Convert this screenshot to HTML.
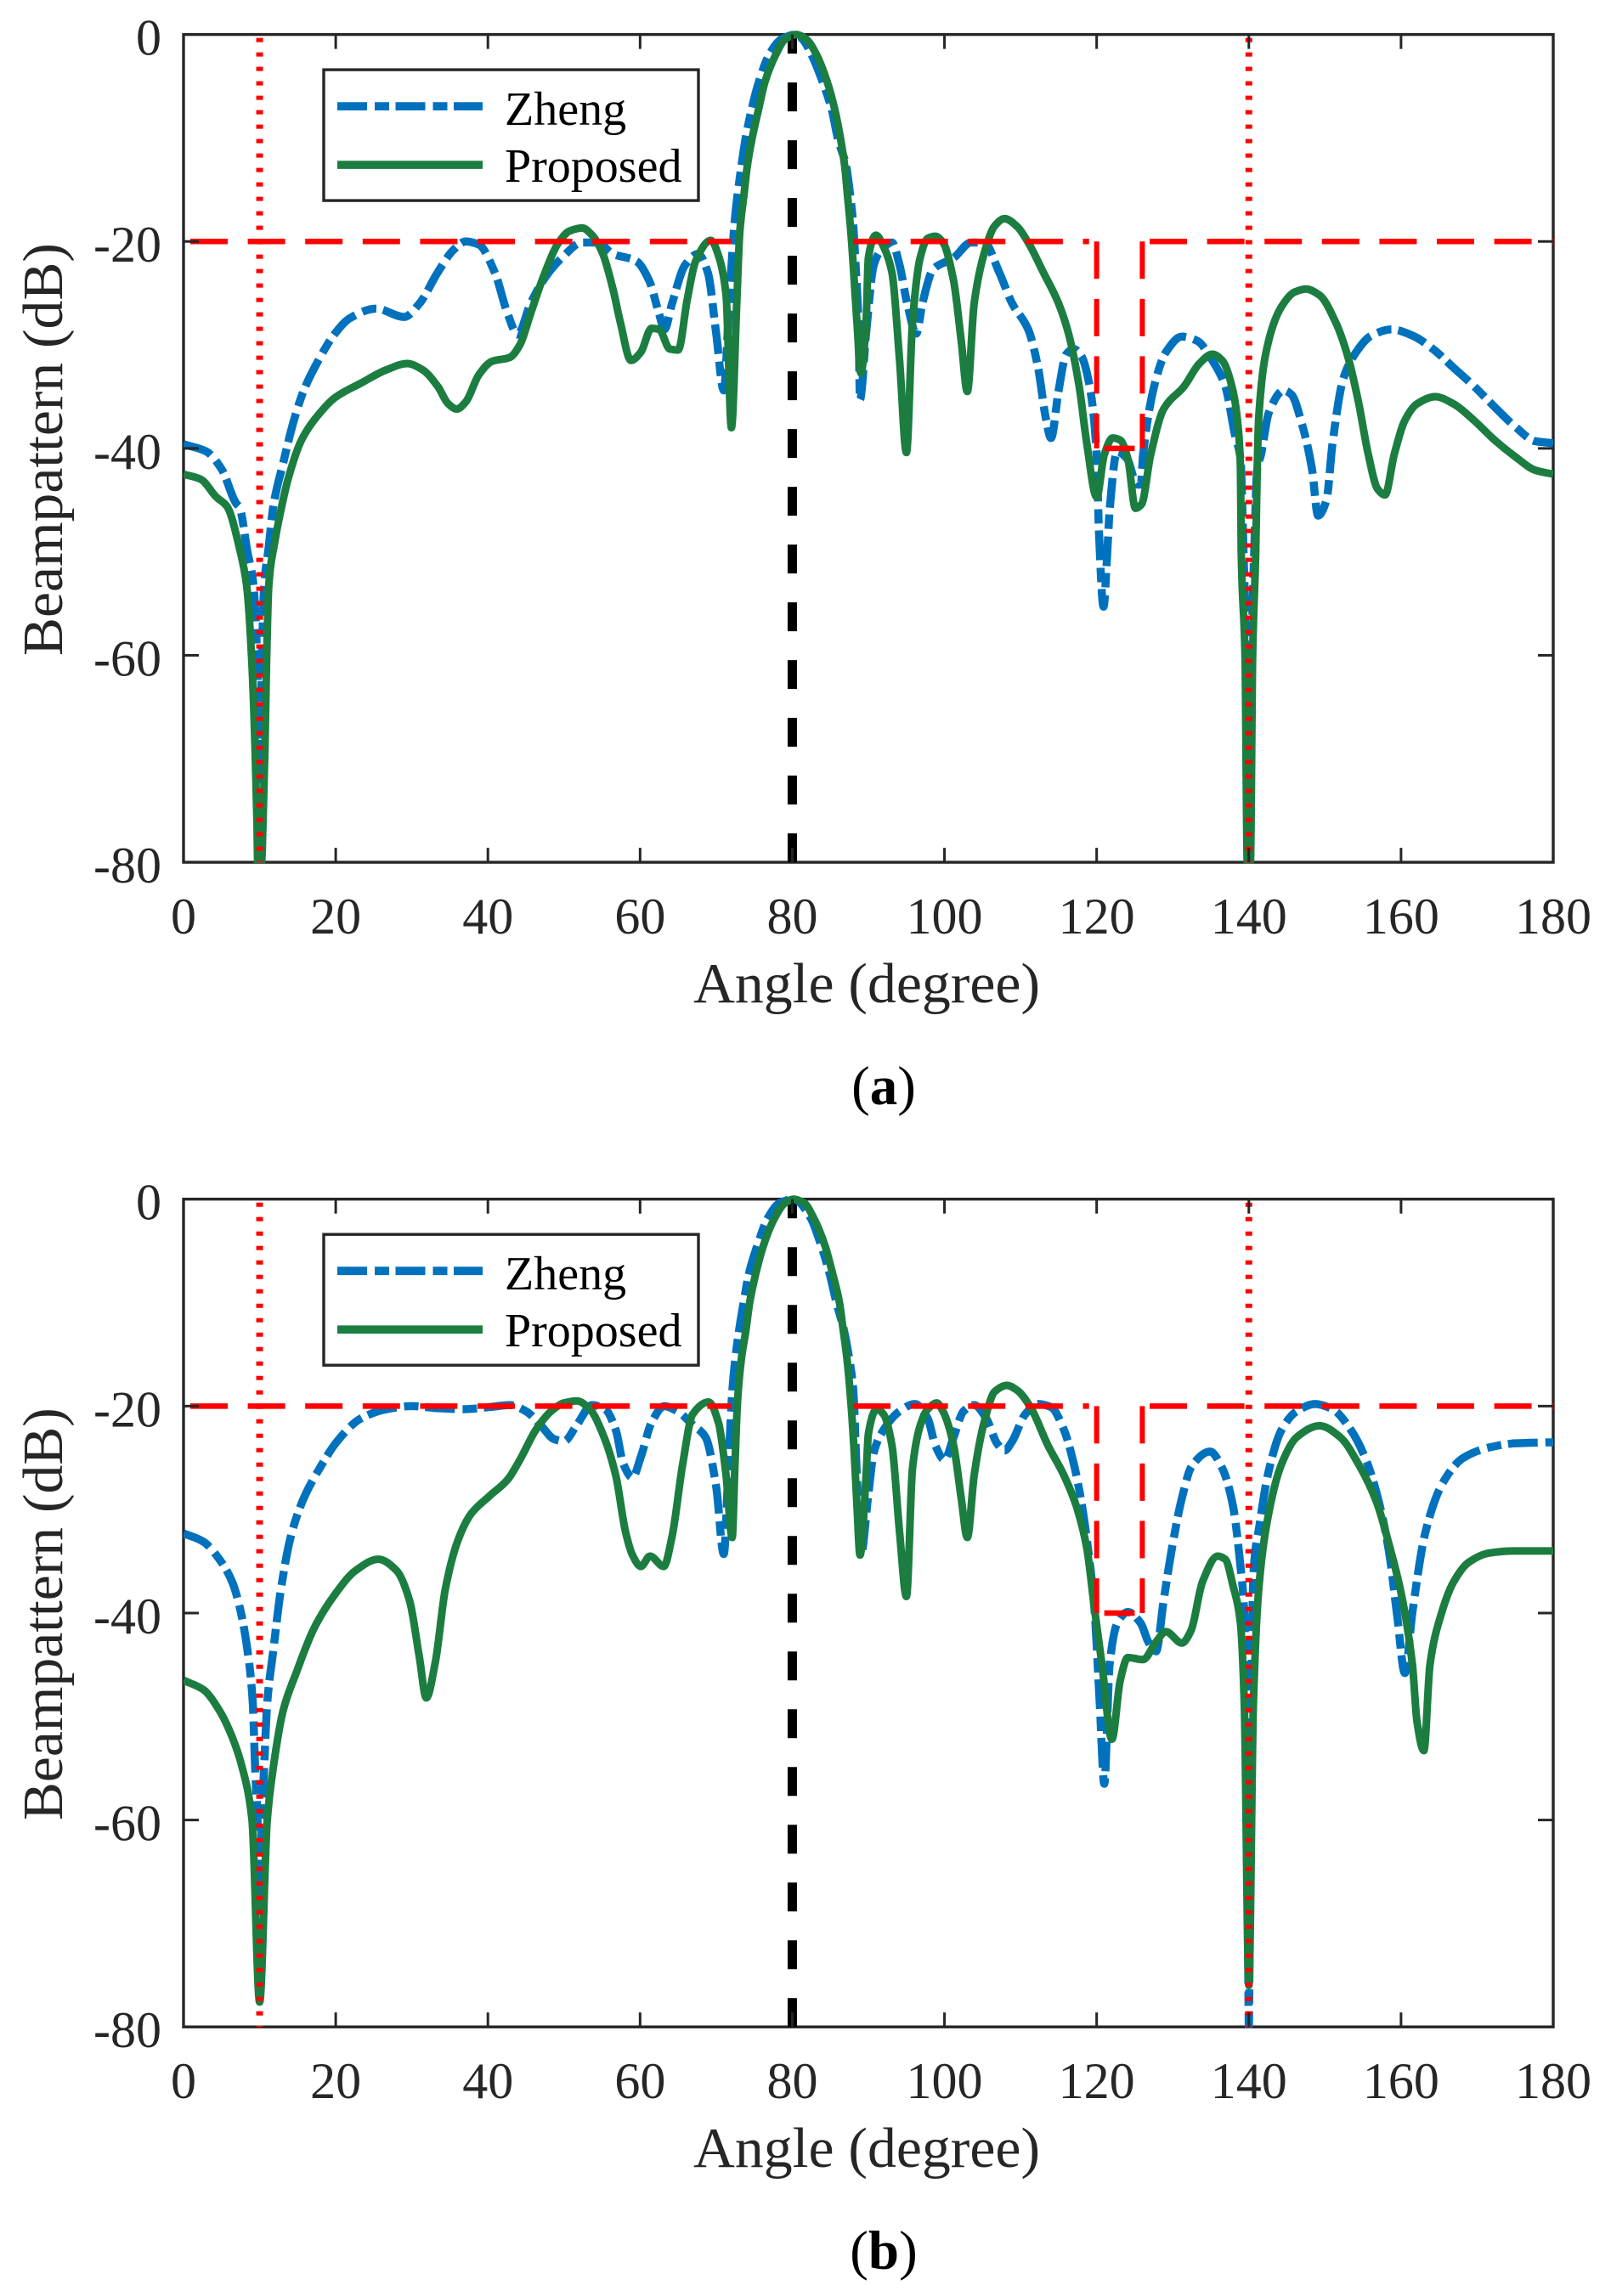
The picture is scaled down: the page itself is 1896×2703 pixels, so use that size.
<!DOCTYPE html>
<html lang="en">
<head>
<meta charset="utf-8">
<title>Beampattern comparison</title>
<style>
html,body{margin:0;padding:0;background:#fff;}
svg{display:block;}
text{font-family:"Liberation Serif","DejaVu Serif",serif;}
</style>
</head>
<body>
<svg id="figure" xmlns="http://www.w3.org/2000/svg" width="1896" height="2703" viewBox="0 0 1896 2703"></svg>
<script>
const xTickValues = [0,20,40,60,80,100,120,140,160,180];
const yTickValues = [0,-20,-40,-60,-80];
const nullAngles = [10,140];
const mainBeamAngle = [80];
const maskSegmentAngles = [[0,72],[88,119],[120,120],[121,125],[126,126],[126,180]];
const maskSegmentDb = [[-20,-20],[-20,-20],[-20,-40],[-40,-40],[-20,-40],[-20,-20]];

const panelAZhengAngle = [0,3,5,7,7.3,8.4,9.2,9.75,10,10.25,10.6,11.2,11.8,13.1,14.5,15.8,17.5,19.9,21.9,25.3,29,31,33.4,35.5,37.1,38.8,40.9,42.6,43.9,45.6,47.6,49.7,52.4,54.4,56.4,59.5,61.2,62.5,63.2,64.2,65.9,67.6,68.9,70,71,71.7,72.4,72.8,73.3,73.85,74.7,75.6,77,78.5,80.5,81.4,82.5,84,85.2,86,87.1,87.6,88,88.3,88.7,88.9,89.7,90.7,91.7,93.1,94.1,95.1,96.3,97.1,98.5,101.2,103.5,105.2,107.2,108.9,111,112.3,113.3,114,115,116,117,118,119,120,120.3,120.9,121.4,121.7,122.7,124,125.3,125.8,126.1,127.8,129.1,131.2,133.2,135.2,136.9,138.2,138.9,139.3,139.7,140,140.3,140.7,141.1,141.6,142.6,144.6,145.6,147,148.3,149.1,150.2,151,152.4,154.1,156.1,158.8,161.5,164.2,166.9,169.6,172.3,175,177.6,180];
const panelAZhengDb = [-39.6,-40.3,-42,-45.4,-45.6,-50,-53.3,-62,-72,-62,-53.3,-49.5,-45.6,-41.4,-37.3,-34.4,-31.8,-28.9,-27.4,-26.5,-27.3,-26,-23,-20.8,-20,-20.3,-23,-27,-29,-26,-23.4,-21.6,-20.1,-20.1,-21.2,-21.9,-23.8,-27,-28.5,-26,-22.3,-21.2,-23,-28.9,-34.4,-26,-18.3,-15.5,-12.8,-10.1,-7.1,-4.6,-1.9,-0.5,0,-0.5,-1.9,-4.6,-7.3,-10.1,-12.8,-15.5,-18.3,-22,-28,-35.3,-28.9,-22.3,-20.8,-20.1,-22.3,-26,-28.9,-26,-22.7,-21.6,-20.1,-20.1,-23,-26,-28.5,-32.2,-37,-39,-34.4,-30.9,-30.4,-31.1,-33.7,-40.6,-48,-55.3,-50,-46,-40.3,-41,-43.5,-43.5,-40.6,-33.3,-30.7,-29.2,-29.6,-31.5,-34,-38.8,-41,-50,-62,-80,-62,-50,-42,-40.6,-36.6,-34.4,-34.8,-37.7,-42,-46.5,-45,-39.5,-33.3,-30.7,-29.1,-28.5,-29.1,-30.4,-32.2,-34,-36,-37.9,-39.3,-39.5];

const panelAProposedAngle = [0,2.3,4.3,5.7,7.4,8.3,9,9.4,9.65,9.75,10.25,10.45,10.7,10.9,11.2,12,12.9,13.8,15.5,17.9,19.9,23.3,26.7,29.4,31.4,33.4,34.8,35.9,37.1,38.8,40.5,42.9,44.2,45.6,47.3,49.3,50.7,52.4,53.7,55.1,56.4,57.4,58.8,60.1,61.5,62.5,63.9,65,66.2,67.3,69.3,70.4,71.3,72,72.7,73.1,73.65,74.07,74.7,75.55,76.4,77.86,79,80.5,81.9,83.15,84.6,85.6,86.35,86.9,87.25,87.7,88.5,89,89.7,90,91,92,93.1,94.1,95,95.8,96.8,97.8,98.8,99.8,101.2,102.2,103,103.9,105.2,106.6,107.9,109.6,111,113,115,116.3,117.7,118.7,120,121,122.1,123.1,124.1,125.1,125.9,127.1,128.8,131.5,133.5,135.2,136.5,137.9,138.6,138.9,139,139.5,139.8,140.2,140.5,140.9,141.1,141.3,142.6,144.3,146,147.5,149.3,151.4,153,154.4,155.7,156.9,157.9,159.1,160.5,162.1,164.5,166.9,169.6,172.3,175,177.6,180];
const panelAProposedDb = [-42.5,-43,-44.7,-45.6,-49.8,-53.3,-61,-69,-76,-80,-80,-76,-69,-61,-53.3,-49,-45.6,-42.8,-39.2,-36.6,-35.1,-33.7,-32.4,-31.8,-32.4,-34,-35.7,-36.2,-35.5,-32.9,-31.6,-31.2,-30,-27,-23.4,-20.1,-19,-18.7,-19.4,-21.2,-24.5,-27.8,-31.5,-30.7,-28.4,-28.5,-30.4,-30.5,-25.6,-21.9,-19.9,-21.6,-25.2,-38,-26,-19.1,-15.5,-12.8,-10.1,-7.3,-4.6,-1.9,-0.5,0,-0.5,-1.9,-4.6,-7.3,-10.1,-12.8,-15.5,-19.1,-27.8,-32.7,-27.8,-21.6,-19.4,-20.5,-23,-31.5,-40.4,-27.8,-21.6,-19.7,-19.5,-20.1,-23.8,-29.6,-34.5,-26,-21.2,-18.5,-17.8,-18.6,-20.1,-23,-26,-28.9,-34,-39.5,-44.7,-40.6,-39,-39.2,-41,-45.8,-45.4,-40.6,-36.2,-34,-31.8,-30.9,-31.5,-34.4,-38,-42,-50,-60,-80,-80,-60,-50,-42,-37,-29.6,-26.3,-24.9,-24.6,-25.2,-27.8,-31.1,-35.5,-40.6,-43.9,-44.5,-40.6,-37.3,-35.7,-35,-35.7,-37.3,-39.2,-40.8,-42.1,-42.5];

const panelBZhengAngle = [0,2.6,4.7,6.4,7.4,8.4,9.1,9.4,9.8,10,10.2,10.6,11,11.8,12.8,14.1,15.8,17.9,20.2,23.3,26.7,30,33.4,36.8,40.2,42.9,45,47,48.7,50,51.7,53.7,55.4,56.8,57.8,59,60.1,61.5,63.2,64.9,66.9,68.6,70,71,71.6,72.1,72.5,73,73.6,74.3,75.4,76.8,78.3,80.2,82.4,83.8,84.9,85.8,86.8,87.5,88,88.5,89,90,90.7,92,94.1,96.1,97.8,98.8,100,101.2,102.5,103.9,105.5,106.9,107.9,108.9,110.6,112.3,114,115.7,117,118,118.9,119.7,120.4,121,121.7,122.7,124.1,125.8,126.8,127.8,128.8,130,131.2,132.5,134.9,136.5,137.9,138.9,139.4,139.8,140,140.2,140.6,141.4,142.6,144.3,146.3,148.7,151,153.4,155.4,157.1,158.4,159.5,160.5,161.5,163.2,165.5,168.2,171.6,175,180];
const panelBZhengDb = [-32.3,-33.1,-34.8,-37,-39.5,-43.6,-48.7,-54.8,-62,-75,-62,-54.8,-48.7,-43.6,-37.7,-32.6,-28.9,-26,-23.4,-21.2,-20.3,-20,-20.2,-20.3,-20.1,-19.9,-20.5,-21.9,-23.2,-23.4,-21.8,-19.9,-20.3,-22.3,-25.6,-26.9,-24.9,-21.6,-20,-20.5,-21.8,-23,-27.8,-34.3,-26,-18.7,-15.5,-12.7,-10,-7.2,-4.5,-1.8,-0.4,0,-1.8,-4.5,-7.2,-10,-12.7,-15.5,-18.3,-27,-34.4,-28.5,-24.5,-22.3,-20.5,-19.8,-21.2,-23.8,-25.2,-23,-20.5,-19.9,-21.2,-23.6,-24.3,-23.4,-20.8,-19.8,-20.1,-22.3,-25.6,-29.3,-34,-39.5,-48.7,-56.5,-45,-41,-39.9,-41,-42.8,-43.7,-38.8,-33.3,-28.9,-25.8,-24.4,-26,-29.6,-35.5,-40,-60,-80,-60,-36.2,-31.5,-26.3,-22.3,-20.5,-19.8,-20.3,-22.3,-25.2,-29.3,-34,-40.3,-45.8,-39.9,-32.2,-27.4,-25,-24,-23.6,-23.5];

const panelBProposedAngle = [0,2.6,4.7,6.4,7.7,9,10,11,11.8,13.1,14.8,17.2,19.9,22.6,25.6,28,29.7,31,31.9,33.1,34.4,36.1,37.8,40.2,42.6,44.2,46.3,48.3,50,51.7,53.4,55.1,56.8,58.1,59,60.1,61.3,63.1,64.2,65.6,66.9,69,70.3,71.3,72.1,72.45,72.8,73.3,73.9,74.4,75.2,76.2,77.7,79,80.2,81.6,82.8,84.3,85.3,86.2,86.7,87.2,87.7,88.1,88.5,88.9,89.7,90,91.1,92,93.1,94.1,95,95.8,96.8,97.8,99,99.8,101.2,102.2,103,103.9,105.2,106.6,108.2,109.6,111.3,113.6,115.7,117.3,118.7,119.7,120.7,122,123.1,124.1,126.1,127.8,129.1,131.2,132.4,133.9,135.9,136.9,137.9,138.9,139.4,140,140.6,141.3,142.6,144.3,146.3,149.3,152,154.4,156.8,158.4,160.1,161.5,162.1,163,163.8,165.2,166.9,168.9,171.6,175,180];
const panelBProposedDb = [-46.5,-47.4,-49.4,-52,-54.9,-60,-77.6,-60,-54.9,-49.4,-45.8,-41.4,-38.2,-35.9,-34.8,-35.9,-38.8,-44.3,-48.2,-44.7,-37.7,-32.9,-30.4,-28.7,-27.1,-25.2,-22.3,-20.5,-19.7,-19.5,-20.3,-22.7,-26.7,-32.2,-34.4,-35.5,-34.5,-35.5,-32.6,-25.6,-20.8,-19.6,-21.6,-26.7,-32.7,-26,-19.6,-15.5,-12.7,-10,-7.2,-4.5,-1.8,-0.4,0,-0.4,-1.8,-4.5,-7.2,-10,-12.7,-15.5,-19.6,-24,-29.6,-34.4,-26.7,-22.7,-20.3,-20.8,-23.8,-32.2,-38.4,-26,-21.9,-20.3,-19.7,-20.5,-23.8,-28.9,-32.7,-26.7,-21.6,-18.6,-18,-18.5,-20.1,-23.8,-26.7,-29.6,-33.7,-39.5,-45,-52.2,-46.5,-44.3,-44.5,-42.8,-41.8,-42.9,-41.7,-37,-34.5,-34.8,-37.3,-41,-48.7,-76,-48.7,-37.7,-30.4,-25.6,-23,-21.9,-23,-25.6,-29.3,-33.3,-38.4,-45,-50.5,-53.3,-45,-40.3,-37,-35.1,-34.2,-34,-34];

const SVG_NS = 'http://www.w3.org/2000/svg';
const figure = document.getElementById('figure');
const INK = '#262626';
const PLOT_LEFT = 216, PLOT_WIDTH = 1612, PLOT_HEIGHT = 974.5;
const maskDashOffsets = [59.6,0,0,0,0,59];

function mk(parent, tag, attrs, text) {
  const el = document.createElementNS(SVG_NS, tag);
  for (const k in attrs) el.setAttribute(k, attrs[k]);
  if (text !== undefined) el.textContent = text;
  parent.appendChild(el);
  return el;
}

/* Monotone cubic curve through the mapped points: no overshoot at lobes or nulls. */
function curveThrough(px, py) {
  const n = px.length;
  const slope = [];
  for (let i = 0; i < n - 1; i++) slope.push((py[i + 1] - py[i]) / (px[i + 1] - px[i]));
  const tan = [slope[0]];
  for (let i = 1; i < n - 1; i++) {
    if (slope[i - 1] * slope[i] <= 0) { tan.push(0); continue; }
    const h0 = px[i] - px[i - 1], h1 = px[i + 1] - px[i];
    const w1 = 2 * h1 + h0, w2 = h1 + 2 * h0;
    tan.push((w1 + w2) / (w1 / slope[i - 1] + w2 / slope[i]));
  }
  tan.push(slope[n - 2]);
  let d = 'M' + px[0].toFixed(2) + ' ' + py[0].toFixed(2);
  for (let i = 0; i < n - 1; i++) {
    const h = (px[i + 1] - px[i]) / 3;
    d += 'C' + (px[i] + h).toFixed(2) + ' ' + (py[i] + tan[i] * h).toFixed(2) + ' ' +
         (px[i + 1] - h).toFixed(2) + ' ' + (py[i + 1] - tan[i + 1] * h).toFixed(2) + ' ' +
         px[i + 1].toFixed(2) + ' ' + py[i + 1].toFixed(2);
  }
  return d;
}

function drawPanel(id, top, zhengAngle, zhengDb, proposedAngle, proposedDb, caption) {
  const xAxis = a => PLOT_LEFT + a / 180 * PLOT_WIDTH;
  const yAxis = d => top - d / 80 * PLOT_HEIGHT;
  const bottom = top + PLOT_HEIGHT;
  const right = PLOT_LEFT + PLOT_WIDTH;

  const g = mk(figure, 'g', {});
  
  

  const defs = mk(g, 'defs', {});
  const clip = mk(defs, 'clipPath', {id: 'clip-' + id});
  mk(clip, 'rect', {x: PLOT_LEFT, y: top - 8, width: PLOT_WIDTH, height: PLOT_HEIGHT + 9});

  const plot = mk(g, 'g', {'clip-path': 'url(#clip-' + id + ')'});
  
  

  const frame = mk(g, 'rect', {x: PLOT_LEFT, y: top, width: PLOT_WIDTH, height: PLOT_HEIGHT, fill: 'none', stroke: INK, 'stroke-width': 3.4});
  
  
  g.insertBefore(frame, plot);

  mainBeamAngle.forEach(a => {
    const beam = mk(plot, 'line', {x1: xAxis(a), x2: xAxis(a), y1: yAxis(-80), y2: yAxis(0), stroke: '#000', 'stroke-width': 11, 'stroke-dasharray': '34 34'});
    
    
  });

  const zheng = mk(plot, 'path', {d: curveThrough(zhengAngle.map(xAxis), zhengDb.map(yAxis)), fill: 'none', stroke: '#0072BD', 'stroke-width': 9.5, 'stroke-dasharray': '35 9 17 8', 'stroke-linejoin': 'round'});
  
  

  const proposed = mk(plot, 'path', {d: curveThrough(proposedAngle.map(xAxis), proposedDb.map(yAxis)), fill: 'none', stroke: '#1C7D40', 'stroke-width': 9, 'stroke-linejoin': 'round'});
  
  

  maskSegmentAngles.forEach((seg, i) => {
    const d = maskSegmentDb[i];
    const mask = mk(plot, 'line', {x1: xAxis(seg[0]), x2: xAxis(seg[1]), y1: yAxis(d[0]), y2: yAxis(d[1]), stroke: '#ff0000', 'stroke-width': seg[0] === seg[1] ? 6 : 6.5, 'stroke-dasharray': '44 23.6', 'stroke-dashoffset': maskDashOffsets[i]});
    
    
  });

  nullAngles.forEach(a => {
    const nullLine = mk(plot, 'line', {x1: xAxis(a), x2: xAxis(a), y1: yAxis(0), y2: yAxis(-80), stroke: '#ff0000', 'stroke-width': 8, 'stroke-dasharray': '5 12', 'stroke-dashoffset': 13});
    
    
  });

  xTickValues.forEach(v => {
    const x = xAxis(v);
    if (v !== 0 && v !== 180) {
      const t1 = mk(g, 'line', {x1: x, x2: x, y1: bottom, y2: bottom - 17, stroke: INK, 'stroke-width': 3});
      
      
      const t2 = mk(g, 'line', {x1: x, x2: x, y1: top, y2: top + 17, stroke: INK, 'stroke-width': 3});
      
      
    }
    const label = mk(g, 'text', {x: x, y: bottom + 84, 'text-anchor': 'middle', 'font-size': 60, fill: INK}, String(v));
    
    
  });

  yTickValues.forEach(v => {
    const y = yAxis(v);
    if (v !== 0 && v !== -80) {
      const t1 = mk(g, 'line', {x1: PLOT_LEFT, x2: PLOT_LEFT + 18, y1: y, y2: y, stroke: INK, 'stroke-width': 3});
      
      
      const t2 = mk(g, 'line', {x1: right, x2: right - 18, y1: y, y2: y, stroke: INK, 'stroke-width': 3});
      
      
    }
    const label = mk(g, 'text', {x: 190, y: y + 24, 'text-anchor': 'end', 'font-size': 60, fill: INK}, String(v));
    
    
  });

  const xTitle = mk(g, 'text', {x: 1020, y: top + 1139.5, 'text-anchor': 'middle', 'font-size': 67, fill: INK, textLength: 408, lengthAdjust: 'spacingAndGlyphs'}, 'Angle (degree)');
  
  

  const yTitle = mk(g, 'text', {transform: 'translate(73,' + (top + 488.5) + ') rotate(-90)', 'text-anchor': 'middle', 'font-size': 67, fill: INK, textLength: 486, lengthAdjust: 'spacingAndGlyphs'}, 'Beampattern (dB)');
  
  

  const legend = mk(g, 'g', {});
  
  
  const lt = top + 41.5;
  const box = mk(legend, 'rect', {x: 381, y: lt, width: 441, height: 154, fill: '#fff', stroke: INK, 'stroke-width': 3.4});
  
  
  const keyZ = mk(legend, 'line', {x1: 397, x2: 568, y1: lt + 43, y2: lt + 43, stroke: '#0072BD', 'stroke-width': 9.8, 'stroke-dasharray': '35 9 17 7.5'});
  
  
  const textZ = mk(legend, 'text', {x: 594, y: lt + 65, 'font-size': 56, fill: '#000'}, 'Zheng');
  
  
  const keyP = mk(legend, 'line', {x1: 397, x2: 568, y1: lt + 112, y2: lt + 112, stroke: '#1C7D40', 'stroke-width': 9.6});
  
  
  const textP = mk(legend, 'text', {x: 594, y: lt + 132, 'font-size': 56, fill: '#000'}, 'Proposed');
  
  

  const cap = mk(g, 'text', {x: 1040, y: top + 1259.5, 'text-anchor': 'middle', 'font-size': 65, fill: '#000'});
  
  
  mk(cap, 'tspan', {}, '(');
  mk(cap, 'tspan', {'font-weight': 'bold'}, caption);
  mk(cap, 'tspan', {}, ')');
}

drawPanel('a', 40.6, panelAZhengAngle, panelAZhengDb, panelAProposedAngle, panelAProposedDb, 'a');
drawPanel('b', 1411.7, panelBZhengAngle, panelBZhengDb, panelBProposedAngle, panelBProposedDb, 'b');
</script>
</body>
</html>
